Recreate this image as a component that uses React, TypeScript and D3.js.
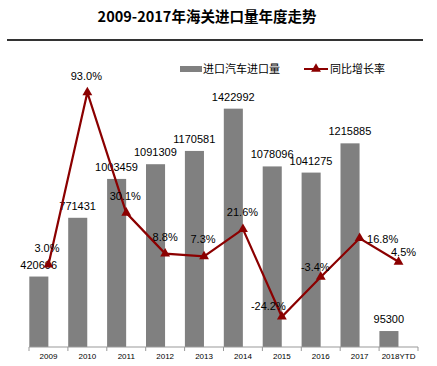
import * as d3 from "d3";
import React from "react";

const years = ["2009", "2010", "2011", "2012", "2013", "2014", "2015", "2016", "2017", "2018YTD"];
const imports = [420696, 771431, 1003459, 1091309, 1170581, 1422992, 1078096, 1041275, 1215885, 95300];
const growth = [3.0, 93.0, 30.1, 8.8, 7.3, 21.6, -24.2, -3.4, 16.8, 4.5];
// label nudges for the growth labels (dx, dy from the marker)
const growthLabelOffsets = [
  [-1.5, -13], [-1, -12], [-1, -13], [0, -13], [-1, -13],
  [-0.5, -13], [-13.5, -6.5], [-5.5, -6], [23, 5], [5, -6],
];

const W = 437;
const H = 366;
const lineColor = "#8B0000";
const barColor = "#808080";
const numFont = "'Liberation Sans', Arial, sans-serif";
const cjkFont = "'Noto Sans CJK SC', 'Noto Sans', sans-serif";

const App = () => {
  const x = d3.scaleBand().domain(years).range([29, 418]).padding(0);
  const bw = x.bandwidth();
  const yBar = d3.scaleLinear().domain([0, 1600000]).range([347, 79]);
  const yLine = d3.scaleLinear().domain([-40, 100]).range([347, 79]);

  const cx = (c: string) => (x(c) as number) + bw / 2;
  const line = d3
    .line<number>()
    .x((_d, i) => cx(years[i]))
    .y((d) => yLine(d));

  const tri = d3.symbol().type(d3.symbolTriangle).size(42)();

  return (
    <svg
      width={W}
      height={H}
      style={{ position: "absolute", left: 0, top: 0, background: "#fff" }}
    >
      <text
        x={207}
        y={22}
        textAnchor="middle"
        fontFamily={cjkFont}
        fontWeight="bold"
        fontSize={14.5}
        fill="#000"
      >
        2009-2017年海关进口量年度走势
      </text>
      <line x1={7} x2={423} y1={40} y2={40} stroke="#333" strokeWidth={2} />

      {/* legend */}
      <rect x={180} y={66} width={22} height={6} fill={barColor} />
      <text x={203} y={73} fontFamily={cjkFont} fontSize={11} fill="#000">
        进口汽车进口量
      </text>
      <line x1={304} x2={328} y1={69} y2={69} stroke={lineColor} strokeWidth={2} />
      <path d={tri as string} transform="translate(316,69)" fill={lineColor} transform-origin="" />
      <text x={330} y={73} fontFamily={cjkFont} fontSize={11} fill="#000">
        同比增长率
      </text>

      {/* bars */}
      {years.map((c, i) => (
        <rect
          key={c}
          x={(x(c) as number) + 0.3}
          y={yBar(imports[i])}
          width={bw * 0.49}
          height={yBar(0) - yBar(imports[i])}
          fill={barColor}
        />
      ))}
      {years.map((c, i) => (
        <text
          key={"bl" + c}
          x={(x(c) as number) + bw * 0.25}
          y={yBar(imports[i]) - 8}
          textAnchor="middle"
          fontFamily={numFont}
          fontSize={11}
          fill="#000"
        >
          {imports[i]}
        </text>
      ))}

      {/* axis */}
      <line x1={29} x2={418} y1={347} y2={347} stroke="#999" strokeWidth={1} />
      {[...years.map((c) => x(c) as number), 418].map((t, i) => (
        <line key={"t" + i} x1={t} x2={t} y1={347} y2={351} stroke="#999" />
      ))}
      {years.map((c) => (
        <text
          key={"xl" + c}
          x={cx(c)}
          y={359}
          textAnchor="middle"
          fontFamily={numFont}
          fontSize={8}
          fill="#000"
        >
          {c}
        </text>
      ))}

      {/* growth line */}
      <path d={line(growth) as string} fill="none" stroke={lineColor} strokeWidth={2.2} />
      {years.map((c, i) => (
        <path
          key={"m" + c}
          d={tri as string}
          transform={`translate(${cx(c)},${yLine(growth[i])})`}
          fill={lineColor}
        />
      ))}
      {years.map((c, i) => (
        <text
          key={"gl" + c}
          x={cx(c) + growthLabelOffsets[i][0]}
          y={yLine(growth[i]) + growthLabelOffsets[i][1]}
          textAnchor="middle"
          fontFamily={numFont}
          fontSize={11}
          fill="#000"
        >
          {growth[i].toFixed(1) + "%"}
        </text>
      ))}
    </svg>
  );
};

export default App;
